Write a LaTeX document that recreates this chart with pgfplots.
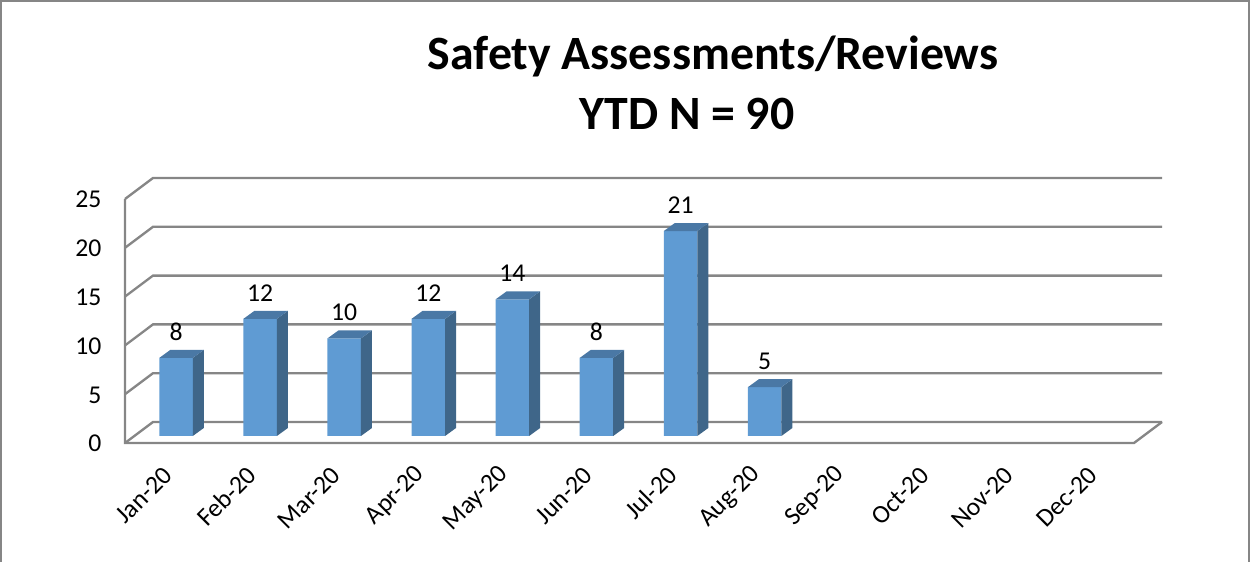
\documentclass[border=0pt]{standalone}
\usepackage{pgfplots}
\usepackage{fontspec}
\setmainfont{Carlito}
\pgfplotsset{compat=1.18}
\usepackage{pgfplotstable}
\definecolor{barfront}{HTML}{5F9BD3}
\definecolor{barside}{HTML}{3F6689}
\definecolor{bartop}{HTML}{4A78A5}
\definecolor{gridc}{HTML}{868686}
\pgfplotstableread{
x v
0 8
1 12
2 10
3 12
4 14
5 8
6 21
7 5
}\bardata
% side and top faces of a bar, drawn from the point at the middle of its top edge
\pgfdeclareplotmark{bardepth}{%
  \pgfmathsetlengthmacro{\barh}{\barval*5.856pt}%
  \pgfsetfillcolor{barside}%
  \pgfpathmoveto{\pgfpoint{10.05pt}{0pt}}%
  \pgfpathlineto{\pgfpoint{16.65pt}{4.8pt}}%
  \pgfpathlineto{\pgfpointadd{\pgfpoint{16.65pt}{4.8pt}}{\pgfpoint{0pt}{-\barh}}}%
  \pgfpathlineto{\pgfpoint{10.05pt}{-\barh}}%
  \pgfpathclose\pgfusepath{fill}%
  \pgfsetfillcolor{bartop}%
  \pgfpathmoveto{\pgfpoint{-10.05pt}{0pt}}%
  \pgfpathlineto{\pgfpoint{-3.45pt}{4.8pt}}%
  \pgfpathlineto{\pgfpoint{16.65pt}{4.8pt}}%
  \pgfpathlineto{\pgfpoint{10.05pt}{0pt}}%
  \pgfpathclose\pgfusepath{fill}%
}
\pgfplotsset{
  chartaxis/.style={
    scale only axis, width=605.4pt, height=146.4pt,
    xmin=-0.5, xmax=11.5, ymin=0, ymax=25,
    anchor=south west, clip=false,
    /pgf/number format/assume math mode=true,
  },
  gridline/.style={gridc,solid,no marks,line width=1.4pt,line join=miter},
}
\begin{document}
\begin{tikzpicture}
\path[use as bounding box] (0,0) rectangle (750pt,337.2pt);
\draw[gridc,line width=1.3pt] (0.7pt,0pt)--(0.7pt,336.9pt)--(749.4pt,336.9pt)--(749.4pt,0pt);
\node[font=\fontsize{28.7}{34.8}\selectfont\bfseries,anchor=center] at (427.8pt,303.4pt)
  {Safety Assessments/Reviews};
\node[font=\fontsize{28.7}{34.8}\selectfont\bfseries,anchor=center] at (412.2pt,268.6pt)
  {YTD N = 90};
\begin{axis}[chartaxis, at={(75pt,71.4pt)},
  axis line style={draw=none},
  ytick={0,5,10,15,20,25},
  xtick={0,...,11},
  xticklabels={Jan-20,Feb-20,Mar-20,Apr-20,May-20,Jun-20,Jul-20,Aug-20,Sep-20,Oct-20,Nov-20,Dec-20},
  major tick length=0pt,
  tick label style={font=\fontsize{15.4}{18}\selectfont,inner sep=0pt},
  yticklabel style={xshift=-14pt,yshift=-0.4pt},
  xticklabel style={xshift=0.6pt,yshift=-16.7pt,rotate=45,anchor=east},
]
\addplot[gridline] coordinates {(-0.5,0) (-0.167,2.152) (11.833,2.152)};
\addplot[gridline] coordinates {(-0.5,5) (-0.167,7.152) (11.833,7.152)};
\addplot[gridline] coordinates {(-0.5,10) (-0.167,12.152) (11.833,12.152)};
\addplot[gridline] coordinates {(-0.5,15) (-0.167,17.152) (11.833,17.152)};
\addplot[gridline] coordinates {(-0.5,20) (-0.167,22.152) (11.833,22.152)};
\addplot[gridline] coordinates {(-0.5,25) (-0.167,27.152) (11.833,27.152)};
\addplot[gridline] coordinates {(-0.5,25) (-0.5,0) (11.5,0) (11.833,2.152)};
\end{axis}
\begin{axis}[chartaxis, at={(80.4pt,75.6pt)}, axis lines=none]
\addplot[ybar, bar width=20.1pt, bar shift=0pt, fill=barfront, draw=none,
  nodes near coords,
  nodes near coords style={anchor=center,yshift=15.6pt,text=black,font=\fontsize{15.4}{18}\selectfont},
] table[x=x,y=v] {\bardata};
\addplot[scatter, only marks, mark=bardepth,
  visualization depends on={\thisrow{v} \as \barval},
] table[x=x,y=v] {\bardata};
\end{axis}
\end{tikzpicture}
\end{document}
